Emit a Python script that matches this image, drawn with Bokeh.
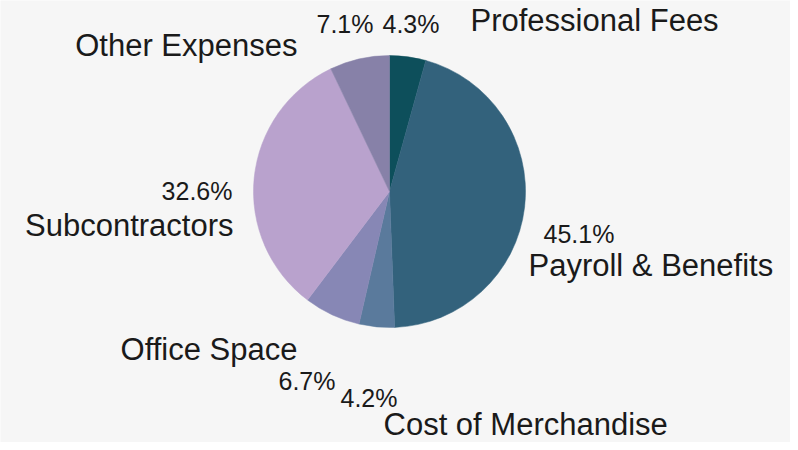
import math
from bokeh.plotting import figure
from bokeh.models import Range1d, ColumnDataSource
from bokeh.core.properties import value
from bokeh.embed import file_html
from bokeh.resources import INLINE

# ---- data ----
categories = ["Professional Fees", "Payroll & Benefits", "Cost of Merchandise",
              "Office Space", "Subcontractors", "Other Expenses"]
shares = [4.3, 45.1, 4.2, 6.7, 32.6, 7.1]
pct_labels = ["4.3%", "45.1%", "4.2%", "6.7%", "32.6%", "7.1%"]
colors = ["#0d4f5b", "#33627c", "#5a7a9c", "#8787b5", "#b9a2cd", "#8781a8"]

# ---- layout (image pixel coordinates, y measured from top) ----
H = 450
W_FIG, H_FIG = 790, 442
CX, CY, R = 389, 191, 136
TEXT_SHIFT = 10  # renderer places alphabetic baseline slightly lower
pct_x = [382, 543, 340, 335, 232, 373]
pct_y = [33, 243, 407, 390, 200, 33]
pct_align = ["left", "left", "left", "right", "right", "right"]
cat_x = [470, 528, 383, 297, 233, 297]
cat_y = [30, 275, 434, 359, 235, 55]
cat_align = ["left", "left", "left", "right", "right", "right"]

total = sum(shares)
starts, ends = [], []
c = 0.0
for s in shares:
    starts.append(math.pi / 2 - 2 * math.pi * c / total)
    c += s
    ends.append(math.pi / 2 - 2 * math.pi * c / total)

BG = "#f6f6f6"
p = figure(width=W_FIG, height=H_FIG, output_backend="svg", toolbar_location=None,
           x_range=Range1d(0, W_FIG), y_range=Range1d(H - H_FIG, H),
           min_border=0, background_fill_color=BG, border_fill_color=BG)
p.axis.visible = False
p.grid.visible = False
p.outline_line_color = None

src = ColumnDataSource(dict(start=starts, end=ends, color=colors, cat=categories))
p.wedge(x=CX, y=H - CY, radius=R, start_angle="start", end_angle="end",
        direction="clock", fill_color="color", line_color="color", line_width=0.5,
        source=src)

font = value("Liberation Sans")
psrc = ColumnDataSource(dict(x=pct_x, y=[H - v + TEXT_SHIFT for v in pct_y],
                             t=pct_labels, a=pct_align))
p.text(x="x", y="y", text="t", text_align="a", text_baseline="alphabetic",
       text_font=font, text_font_size="25px", text_color="#1a1a1a", source=psrc)
csrc = ColumnDataSource(dict(x=cat_x, y=[H - v + TEXT_SHIFT for v in cat_y],
                             t=categories, a=cat_align))
p.text(x="x", y="y", text="t", text_align="a", text_baseline="alphabetic",
       text_font=font, text_font_size="31px", text_color="#1a1a1a", source=csrc)

open("out.html", "w").write(file_html(p, INLINE))
